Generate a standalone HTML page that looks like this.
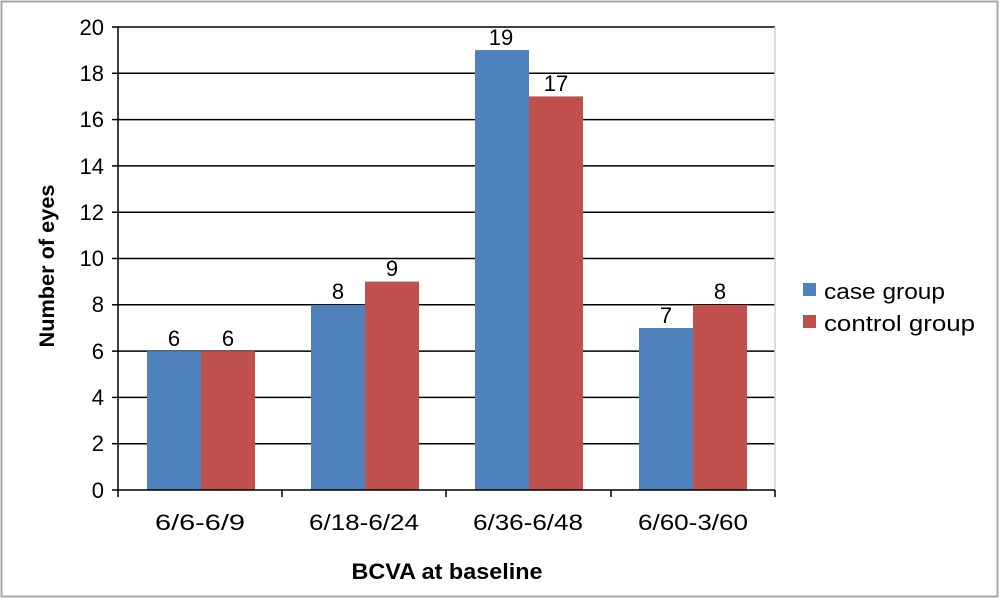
<!DOCTYPE html>
<html><head><style>
body{margin:0;background:#fff}
svg text{font-family:"Liberation Sans",sans-serif}
</style></head><body>
<svg width="1000" height="599" xmlns="http://www.w3.org/2000/svg">
<rect x="1.5" y="1.5" width="996" height="595" fill="#fff" stroke="#a6a6a6" stroke-width="2"/>
<g stroke="#000" stroke-width="1.5">
<line x1="118" y1="27" x2="775" y2="27"/>
<line x1="118" y1="73.3" x2="775" y2="73.3"/>
<line x1="118" y1="119.6" x2="775" y2="119.6"/>
<line x1="118" y1="165.9" x2="775" y2="165.9"/>
<line x1="118" y1="212.2" x2="775" y2="212.2"/>
<line x1="118" y1="258.5" x2="775" y2="258.5"/>
<line x1="118" y1="304.8" x2="775" y2="304.8"/>
<line x1="118" y1="351.1" x2="775" y2="351.1"/>
<line x1="118" y1="397.4" x2="775" y2="397.4"/>
<line x1="118" y1="443.7" x2="775" y2="443.7"/>
</g>
<line x1="775" y1="27" x2="775" y2="490" stroke="#d0d0d0" stroke-width="1.5"/>
<g fill="#4f81bd">
<rect x="147" y="351.1" width="54" height="138.9"/>
<rect x="311" y="304.8" width="54" height="185.2"/>
<rect x="475" y="50.1" width="54" height="439.9"/>
<rect x="639" y="328" width="54" height="162"/>
</g>
<g fill="#c0504d">
<rect x="201" y="351.1" width="54" height="138.9"/>
<rect x="365" y="281.6" width="54" height="208.4"/>
<rect x="529" y="96.4" width="54" height="393.6"/>
<rect x="693" y="304.8" width="54" height="185.2"/>
</g>
<g stroke="#000" stroke-width="1.5">
<line x1="118" y1="27" x2="118" y2="490"/>
<line x1="112" y1="490" x2="775" y2="490"/>
<line x1="118" y1="490" x2="118" y2="497"/>
<line x1="282" y1="490" x2="282" y2="497"/>
<line x1="446" y1="490" x2="446" y2="497"/>
<line x1="611" y1="490" x2="611" y2="497"/>
<line x1="775" y1="490" x2="775" y2="497"/>
<line x1="112" y1="27" x2="118" y2="27"/><line x1="112" y1="73.3" x2="118" y2="73.3"/>
<line x1="112" y1="119.6" x2="118" y2="119.6"/><line x1="112" y1="165.9" x2="118" y2="165.9"/>
<line x1="112" y1="212.2" x2="118" y2="212.2"/><line x1="112" y1="258.5" x2="118" y2="258.5"/>
<line x1="112" y1="304.8" x2="118" y2="304.8"/><line x1="112" y1="351.1" x2="118" y2="351.1"/>
<line x1="112" y1="397.4" x2="118" y2="397.4"/><line x1="112" y1="443.7" x2="118" y2="443.7"/>
</g>
<g font-size="22" text-anchor="end" fill="#000">
<text x="104" y="35">20</text><text x="104" y="81">18</text><text x="104" y="127">16</text>
<text x="104" y="174">14</text><text x="104" y="220">12</text><text x="104" y="266">10</text>
<text x="104" y="312">8</text><text x="104" y="359">6</text><text x="104" y="405">4</text>
<text x="104" y="451">2</text><text x="104" y="498">0</text>
</g>
<g font-size="22" text-anchor="middle" fill="#000">
<text x="200" y="530" textLength="90" lengthAdjust="spacingAndGlyphs">6/6-6/9</text>
<text x="364" y="530" textLength="110" lengthAdjust="spacingAndGlyphs">6/18-6/24</text>
<text x="528" y="530" textLength="110" lengthAdjust="spacingAndGlyphs">6/36-6/48</text>
<text x="693" y="530" textLength="110" lengthAdjust="spacingAndGlyphs">6/60-3/60</text>
<text x="174" y="346">6</text><text x="228" y="346">6</text>
<text x="338" y="299">8</text><text x="392" y="276">9</text>
<text x="501" y="45">19</text><text x="556" y="91">17</text>
<text x="666" y="323">7</text><text x="720" y="299">8</text>
</g>
<text x="447" y="579" font-size="22" font-weight="bold" text-anchor="middle" textLength="191" lengthAdjust="spacingAndGlyphs">BCVA at baseline</text>
<text transform="translate(54,266) rotate(-90)" font-size="21" font-weight="bold" text-anchor="middle" textLength="163" lengthAdjust="spacingAndGlyphs">Number of eyes</text>
<rect x="803" y="283" width="13" height="13" fill="#4f81bd"/>
<text x="824" y="299" font-size="22" textLength="121" lengthAdjust="spacingAndGlyphs">case group</text>
<rect x="803" y="315" width="13" height="13" fill="#c0504d"/>
<text x="824" y="331" font-size="22" textLength="151" lengthAdjust="spacingAndGlyphs">control group</text>
</svg>
</body></html>
